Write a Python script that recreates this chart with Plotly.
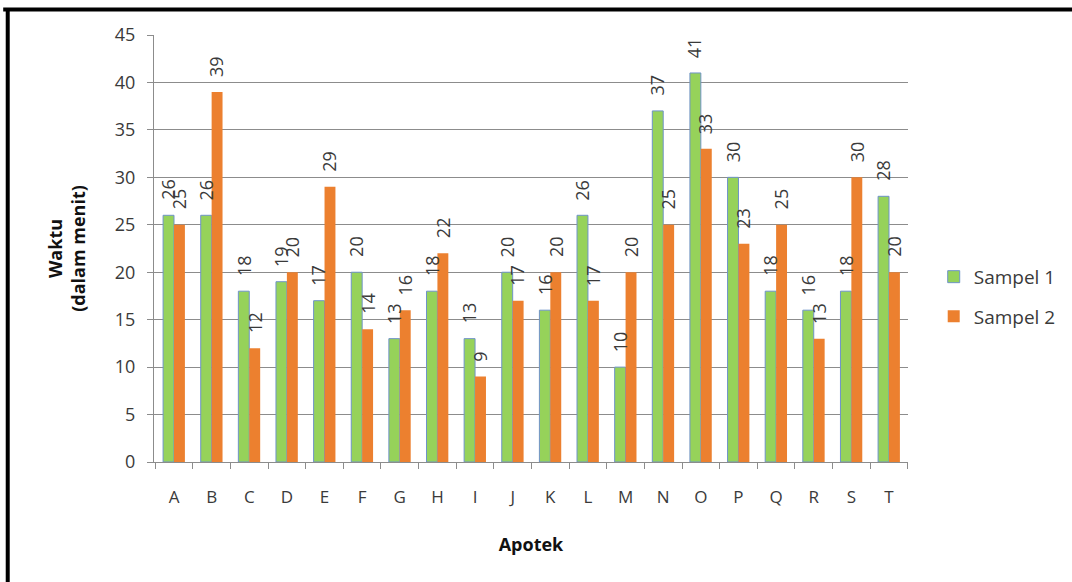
import plotly.graph_objects as go

apotek = list("ABCDEFGHIJKLMNOPQRST")
sampel_1 = [26, 26, 18, 19, 17, 20, 13, 18, 13, 20, 16, 26, 10, 37, 41, 30, 18, 16, 18, 28]
sampel_2 = [25, 39, 12, 20, 29, 14, 16, 22, 9, 17, 20, 17, 20, 25, 33, 23, 25, 13, 30, 20]
y_ticks = [0, 5, 10, 15, 20, 25, 30, 35, 40, 45]

FONT = "Open Sans"
TXT = "#3a3a3a"

fig = go.Figure()
fig.add_trace(go.Bar(
    x=apotek, y=sampel_1, name="Sampel 1", legendgroup="s1",
    marker=dict(color="#96D25A", line=dict(color="#6F93C8", width=1)),
))
fig.add_trace(go.Bar(
    x=apotek, y=sampel_2, name="Sampel 2", legendgroup="s2",
    marker=dict(color="#EC802F", line=dict(width=0)),
))

# value labels, rotated and lifted above each bar
annotations = []
for series, shift in ((sampel_1, -6), (sampel_2, 5)):
    for cat, val in zip(apotek, series):
        annotations.append(dict(
            x=cat, y=val, xref="x", yref="y", text=str(val), showarrow=False,
            textangle=-90, xanchor="center", yanchor="bottom",
            xshift=shift, yshift=13,
            font=dict(family=FONT, size=18, color=TXT),
        ))

fig.update_layout(
    width=1072, height=582,
    margin=dict(l=154, r=164, t=35, b=120, autoexpand=False),
    paper_bgcolor="white", plot_bgcolor="white",
    barmode="group", bargap=0.42, bargroupgap=0,
    font=dict(family=FONT, color=TXT),
    showlegend=True,
    legend=dict(
        xref="container", yref="container",
        x=0.871, y=0.49, xanchor="left", yanchor="middle",
        font=dict(family=FONT, size=19, color=TXT),
        tracegroupgap=12, itemwidth=30, bgcolor="rgba(0,0,0,0)",
    ),
    xaxis=dict(
        showline=True, linecolor="#8c8c8c", linewidth=1,
        ticks="outside", tickson="boundaries", ticklen=6, tickcolor="#8c8c8c",
        tickfont=dict(family=FONT, size=17, color=TXT),
        ticklabelstandoff=20,
        title=dict(text="<b>Apotek</b>", font=dict(family=FONT, size=18, color="#111"), standoff=30),
    ),
    yaxis=dict(
        range=[0, 45], tickvals=y_ticks,
        showline=True, linecolor="#8c8c8c", linewidth=1,
        showgrid=True, gridcolor="#8c8c8c", gridwidth=1,
        ticks="outside", ticklen=6, tickcolor="#8c8c8c",
        tickfont=dict(family=FONT, size=18, color=TXT),
        ticklabelstandoff=8,
        zeroline=False,
        title=dict(text="<b>Waktu<br>(dalam menit)</b>", font=dict(family=FONT, size=18, color="#111"), standoff=24),
    ),
    annotations=annotations,
    shapes=[
        dict(type="line", xref="paper", yref="paper", x0=-0.2, x1=1.3, y0=1.06, y1=1.06,
             line=dict(color="black", width=4)),
        dict(type="line", xref="paper", yref="paper", x0=-0.194, x1=-0.194, y0=1.06, y1=-0.3,
             line=dict(color="black", width=4)),
    ],
)

fig.write_html("out.html")
